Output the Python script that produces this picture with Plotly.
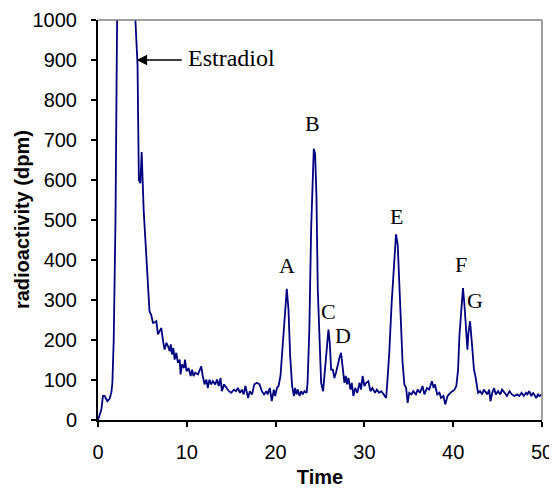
import plotly.graph_objects as go

time = [0.0, 0.38, 0.56, 0.75, 1.05, 1.3, 1.5, 1.62, 1.77, 1.9, 1.97, 2.4, 3.0, 3.5, 4.1, 4.45, 4.6, 4.77, 4.92, 5.14, 5.44, 5.63, 5.8, 6.0, 6.19, 6.38, 6.57, 6.75, 6.94, 7.13, 7.3, 7.5, 7.7, 7.88, 8.07, 8.2, 8.33, 8.48, 8.63, 8.82, 9.0, 9.2, 9.3, 9.45, 9.68, 9.8, 9.97, 10.2, 10.43, 10.6, 10.75, 10.95, 11.25, 11.44, 11.63, 11.8, 12.0, 12.2, 12.37, 12.55, 12.75, 12.93, 13.2, 13.4, 13.6, 13.8, 13.95, 14.2, 14.45, 14.75, 15.0, 15.3, 15.55, 15.75, 16.0, 16.2, 16.4, 16.6, 16.9, 17.1, 17.35, 17.6, 17.9, 18.2, 18.45, 18.7, 18.95, 19.1, 19.35, 19.57, 19.8, 19.95, 20.15, 20.33, 20.55, 20.8, 21.08, 21.26, 21.45, 21.64, 21.86, 22.06, 22.2, 22.35, 22.5, 22.7, 22.88, 23.06, 23.25, 23.5, 23.6, 23.8, 24.0, 24.2, 24.3, 24.45, 24.6, 24.75, 24.94, 25.13, 25.35, 25.58, 25.76, 25.95, 26.1, 26.25, 26.45, 26.62, 26.8, 27.0, 27.2, 27.37, 27.56, 27.75, 27.9, 28.05, 28.2, 28.43, 28.58, 28.76, 28.95, 29.2, 29.45, 29.62, 29.8, 30.0, 30.2, 30.45, 30.67, 30.9, 31.2, 31.4, 31.65, 31.9, 32.17, 32.45, 32.6, 32.8, 33.07, 33.37, 33.56, 33.75, 33.94, 34.13, 34.3, 34.5, 34.7, 34.87, 35.05, 35.3, 35.5, 35.8, 36.0, 36.25, 36.55, 36.75, 37.05, 37.3, 37.6, 37.8, 37.95, 38.2, 38.45, 38.63, 38.9, 39.1, 39.37, 39.67, 39.9, 40.15, 40.35, 40.55, 40.7, 40.9, 41.1, 41.28, 41.47, 41.6, 41.72, 41.9, 42.1, 42.34, 42.5, 42.7, 42.8, 43.03, 43.25, 43.45, 43.7, 43.85, 44.05, 44.2, 44.4, 44.6, 44.8, 45.05, 45.3, 45.5, 45.8, 46.05, 46.35, 46.6, 46.9, 47.2, 47.45, 47.7, 47.95, 48.2, 48.35, 48.55, 48.8, 49.0, 49.35, 49.55, 49.7, 50.0]
activity = [0, 26, 60, 60, 47, 53, 68, 93, 201, 380, 500, 1700, 2600, 2400, 1050, 890, 600, 592, 670, 526, 410, 320, 272, 262, 243, 244, 247, 214, 222, 230, 201, 176, 193, 185, 172, 189, 164, 180, 151, 168, 143, 151, 114, 139, 130, 151, 122, 130, 110, 126, 110, 118, 114, 126, 134, 110, 89, 101, 80, 101, 89, 97, 89, 101, 85, 105, 72, 89, 80, 72, 68, 76, 72, 80, 68, 76, 64, 85, 55, 72, 64, 89, 93, 89, 72, 64, 72, 64, 80, 47, 76, 60, 80, 85, 110, 193, 260, 328, 276, 160, 85, 60, 80, 64, 76, 60, 72, 64, 72, 68, 93, 226, 476, 626, 678, 665, 560, 326, 185, 93, 72, 126, 176, 226, 193, 126, 126, 105, 118, 139, 156, 168, 135, 93, 110, 89, 105, 76, 93, 60, 80, 68, 93, 76, 110, 85, 93, 97, 72, 80, 68, 76, 68, 72, 64, 55, 101, 168, 293, 401, 464, 439, 335, 218, 143, 89, 80, 43, 68, 64, 72, 64, 76, 68, 85, 64, 80, 76, 97, 80, 89, 64, 68, 55, 60, 39, 60, 68, 72, 76, 85, 126, 210, 276, 330, 284, 210, 176, 218, 247, 193, 126, 110, 85, 68, 72, 64, 76, 68, 64, 76, 47, 68, 80, 64, 72, 64, 76, 68, 60, 72, 64, 60, 64, 60, 68, 60, 68, 64, 72, 60, 68, 55, 64, 60, 64]

peak_labels = ["A", "B", "C", "D", "E", "F", "G"]
label_x = [21.26, 24.2, 26.0, 27.6, 33.6, 40.9, 42.4]
label_y = [387, 742, 271, 212, 508, 390, 298]

x_ticks = [0, 10, 20, 30, 40, 50]
y_ticks = [0, 100, 200, 300, 400, 500, 600, 700, 800, 900, 1000]

fig = go.Figure()
fig.add_trace(go.Scatter(x=time, y=activity, mode="lines",
                         line=dict(color="#000080", width=1.8), showlegend=False))

for lab, lx, ly in zip(peak_labels, label_x, label_y):
    fig.add_annotation(x=lx, y=ly, text=lab, showarrow=False,
                       font=dict(family="Liberation Serif", size=22, color="black"))

fig.add_annotation(x=4.35, y=900, ax=9.6, ay=900, axref="x", ayref="y",
                   text="", showarrow=True, arrowhead=2, arrowsize=1.4,
                   arrowwidth=1.5, arrowcolor="black")
fig.add_annotation(x=9.95, y=905, text="Estradiol", showarrow=False, xanchor="left",
                   font=dict(family="Liberation Serif", size=24, color="black"))

fig.add_annotation(xref="paper", yref="paper", x=-0.171, y=0.5,
                   text="<b>radioactivity (dpm)</b>", showarrow=False, textangle=-90,
                   xanchor="center", yanchor="middle",
                   font=dict(family="Arial, Liberation Sans", size=20, color="black"))

fig.add_shape(type="line", xref="x domain", yref="y domain", x0=0, x1=1, y0=1, y1=1,
              line=dict(color="#808080", width=1.5))
fig.add_shape(type="line", xref="x domain", yref="y domain", x0=1, x1=1, y0=0, y1=1,
              line=dict(color="#808080", width=1.5))

fig.update_layout(
    width=549, height=480,
    margin=dict(l=90, r=15, t=12, b=68),
    plot_bgcolor="white", paper_bgcolor="white",
    font=dict(family="Arial, Liberation Sans", size=20, color="black"),
)
fig.update_xaxes(range=[0, 50], tickvals=x_ticks, showgrid=False, zeroline=False,
                 showline=True, linecolor="black", linewidth=2, ticks="outside",
                 ticklen=5, tickwidth=1.5, tickcolor="black", automargin=False,
                 ticklabelstandoff=8,
                 title=dict(text="<b>Time</b>", font=dict(size=20), standoff=21))
fig.update_yaxes(range=[0, 1000], tickvals=y_ticks, showgrid=False, zeroline=False,
                 showline=True, linecolor="black", linewidth=2, ticks="outside",
                 ticklen=5, tickwidth=1.5, tickcolor="black", automargin=False,
                 ticklabelstandoff=10)

fig.write_html("out.html")
